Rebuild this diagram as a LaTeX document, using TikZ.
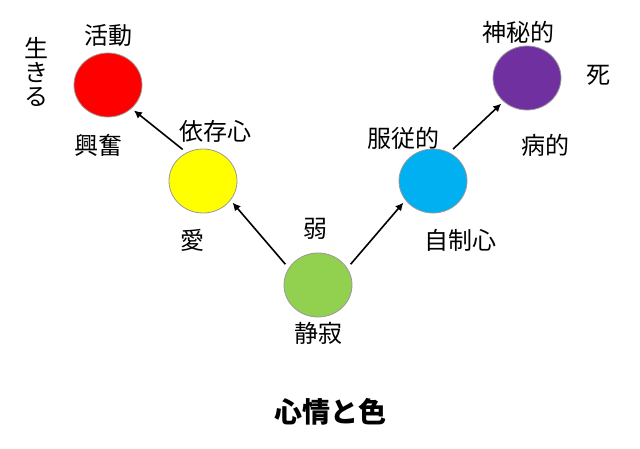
\documentclass[tikz,border=0pt]{standalone}
\usepackage{fontspec}
\usetikzlibrary{shapes.geometric,arrows.meta}
\newfontfamily\cjk{Noto Sans CJK JP}
\begin{document}
\begin{tikzpicture}[x=1pt,y=-1pt,
  ball/.style={ellipse,draw=gray!80,line width=0.8pt,minimum width=68pt,minimum height=64pt},
  lab/.style={font=\cjk\fontsize{24}{26}\selectfont,inner sep=1pt},
  arr/.style={-{Latex[length=8pt,width=8pt]},line width=1.6pt,shorten <=5pt,shorten >=3pt}]
\useasboundingbox (0,0) rectangle (640,449);
\node[ball,fill={rgb,255:red,255;green,0;blue,0}] (r) at (108,85) {};
\node[ball,fill={rgb,255:red,255;green,255;blue,0}] (y) at (203,181) {};
\node[ball,fill={rgb,255:red,146;green,208;blue,80}] (g) at (318,285) {};
\node[ball,fill={rgb,255:red,0;green,176;blue,240}] (b) at (433,181) {};
\node[ball,fill={rgb,255:red,112;green,48;blue,160}] (p) at (527,78) {};
\draw[arr] (g.150) -- (y.-35);
\draw[arr] (y.120) -- (r.-45);
\draw[arr] (g.30) -- (b.-145);
\draw[arr] (b.60) -- (p.-135);
\node[lab] (t1) at (108,35) {活動};
\node[lab,align=center,font=\cjk\fontsize{24}{24}\selectfont] (t2) at (36,72) {生\\き\\る};
\node[lab] (t3) at (98,145) {興奮};
\node[lab] (t4) at (215,131) {依存心};
\node[lab] (t5) at (192,240) {愛};
\node[lab] (t6) at (315,229) {弱};
\node[lab] (t7) at (318,333) {静寂};
\node[lab] (t8) at (403,138) {服従的};
\node[lab] (t9) at (460,240) {自制心};
\node[lab] (t10) at (518,32) {神秘的};
\node[lab] (t11) at (598,75) {死};
\node[lab] (t12) at (545,145) {病的};
\node[font=\cjk\bfseries\fontsize{28}{30}\selectfont] (t13) at (330,412) {心情と色};
\end{tikzpicture}
\end{document}
